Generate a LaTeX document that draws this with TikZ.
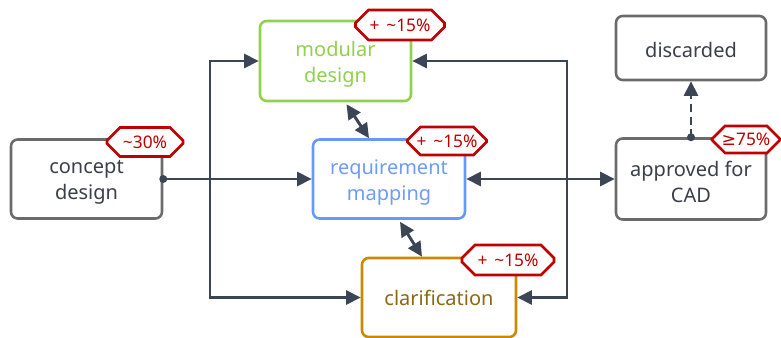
\documentclass[tikz,border=0pt]{standalone}
\usepackage{fontspec}
\setmainfont{Noto Sans}
\newfontfamily\symfont{DejaVu Sans}
\usetikzlibrary{shapes.misc,arrows.meta,calc}
\definecolor{connc}{HTML}{3B4555}
\definecolor{tagred}{HTML}{C00000}
\definecolor{graybd}{HTML}{6B6B6B}
\definecolor{graytx}{HTML}{3A3F4A}
\definecolor{greenbd}{HTML}{92D050}
\definecolor{bluebd}{HTML}{6699FF}
\definecolor{bluetx}{HTML}{6F9CF5}
\definecolor{orangebd}{HTML}{CC8800}
\definecolor{orangetx}{HTML}{8B6914}
\begin{document}
\begin{tikzpicture}[x=0.75pt,y=-0.75pt,
  box/.style={draw, rounded corners=5pt, line width=1.9pt, fill=white, inner sep=0pt},
  txt/.style={align=center, inner sep=0pt, font=\fontsize{15}{19.5}\selectfont},
  tag/.style={chamfered rectangle, chamfered rectangle sep=5pt, draw=tagred, line width=1.9pt,
    fill=white, text=tagred, inner sep=0pt, font=\fontsize{13}{14}\selectfont},
  conn/.style={draw=connc, line width=2.2pt, -{Triangle[length=11pt,width=10.5pt]}},
  dconn/.style={draw=connc, line width=2.2pt, {Triangle[length=11pt,width=10.5pt]}-{Triangle[length=11pt,width=10.5pt]}},
  dashconn/.style={conn, dash pattern=on 6pt off 3.5pt},
  dot/.style={fill=connc}
]
\useasboundingbox (0,0) rectangle (781,338);

% boxes
\node[box, draw=graybd, minimum width=113.25pt, minimum height=59.25pt,
  label={[txt, text=graytx, yshift=-2.5pt]center:{concept\\design}}] (concept) at (86.5,179) {};
\node[box, draw=greenbd, minimum width=113.25pt, minimum height=60pt,
  label={[txt, text=greenbd, yshift=-2.5pt]center:{modular\\design}}] (modular) at (335.5,61) {};
\node[box, draw=bluebd, minimum width=114pt, minimum height=59.25pt,
  label={[txt, text=bluetx, yshift=-2.5pt]center:{requirement\\mapping}}] (req) at (389,179) {};
\node[box, draw=orangebd, minimum width=115.5pt, minimum height=59.25pt,
  label={[txt, text=orangetx, yshift=-0.5pt]center:{clarification}}] (clar) at (439,297.5) {};
\node[box, draw=graybd, minimum width=112.5pt, minimum height=48pt,
  label={[txt, text=graytx, yshift=-1.5pt]center:{discarded}}] (disc) at (691,48) {};
\node[box, draw=graybd, minimum width=112.5pt, minimum height=60.75pt,
  label={[txt, text=graytx, yshift=-2.5pt]center:{approved for\\CAD}}] (appr) at (691,179) {};

% junction coordinates
\coordinate (L) at (210,179);
\coordinate (R) at (567,179);

% connectors
\draw[conn] (concept.east) -- (req.west);
\draw[conn] (L) |- (modular.west);
\draw[conn] (L) |- (clar.west);
\draw[conn] (R) |- (modular.east);
\draw[conn] (R) |- (clar.east);
\draw[dconn] (req.east) -- (appr.west);
\draw[dconn] ($(modular.south)+(11,2)$) -- ($(req.north)+(-20,0)$);
\draw[dconn] ($(req.south)+(11,2)$) -- ($(clar.north)+(-17,0)$);
\draw[dashconn] (appr.north) -- (disc.south);

% tags
\node[tag, minimum width=57pt, minimum height=21.75pt] (t1) at (145,142) {\textasciitilde30\%};
\node[tag, minimum width=66.75pt, minimum height=22.5pt] (t2) at (400,25) {+\hspace{0.4em}\textasciitilde15\%};
\node[tag, minimum width=59.25pt, minimum height=21pt] (t3) at (447,141) {+\hspace{0.4em}\textasciitilde15\%};
\node[tag, minimum width=69pt, minimum height=22.5pt] (t4) at (508,260) {+\hspace{0.4em}\textasciitilde15\%};
\node[tag, minimum width=51pt, minimum height=20.25pt] (t5) at (746,139.5) {{\symfont ≥}75\%};

% dots
\fill[dot] (concept.east) circle (3pt);
\fill[dot] (appr.north) circle (3pt);
\end{tikzpicture}
\end{document}
